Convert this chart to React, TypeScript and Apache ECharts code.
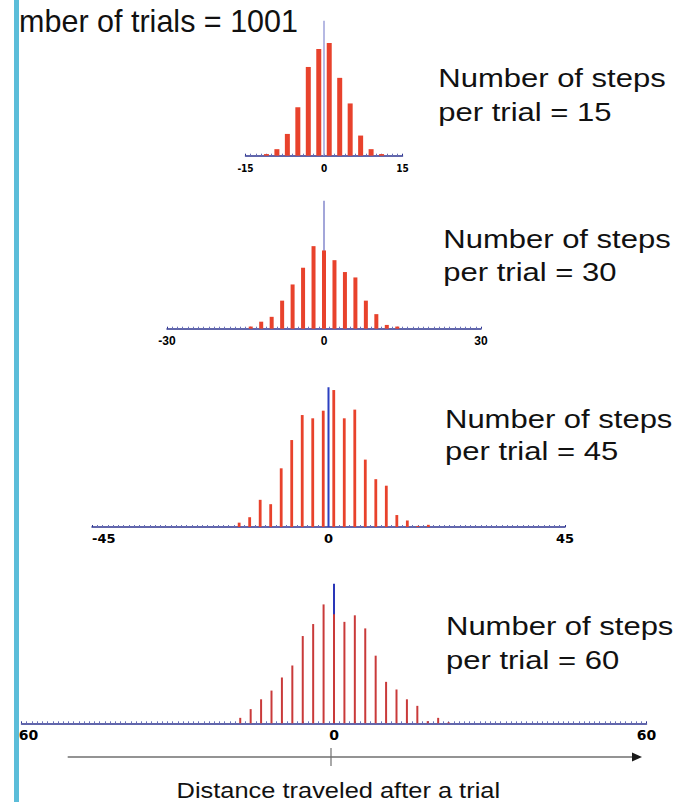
import React, { useEffect, useRef } from "react";
import * as echarts from "echarts";

// ---------- data ----------
const TITLE = "Number of trials = 1001";
const AXIS_TITLE = "Distance traveled after a trial";

const stepsPerTrial = [15, 30, 45, 60];

const dist15 = [-11, -9, -7, -5, -3, -1, 1, 3, 5, 7, 9, 11];
const counts15 = [3, 12, 40, 89, 163, 196, 207, 143, 96, 37, 12, 3];

const dist30 = [-14, -12, -10, -8, -6, -4, -2, 0, 2, 4, 6, 8, 10, 12, 14];
const counts30 = [4, 13, 22, 52, 82, 113, 153, 145, 127, 105, 95, 52, 27, 7, 4];

const dist45 = [-17, -15, -13, -11, -9, -7, -5, -3, -1, 1, 3, 5, 7, 9, 11, 13, 15, 17, 19];
const counts45 = [4, 9, 25, 21, 54, 80, 103, 100, 107, 126, 100, 108, 62, 44, 38, 11, 6, 1, 2];

const dist60 = [-18, -16, -14, -12, -10, -8, -6, -4, -2, 0, 2, 4, 6, 8, 10, 12, 14, 16, 18, 20, 22];
const counts60 = [5, 13, 22, 30, 42, 53, 80, 91, 109, 100, 93, 99, 87, 62, 38, 31, 22, 16, 2, 5, 1];

// height of the vertical marker at 0 (in count units) and y-axis maxima
const centerMarker = [248, 237, 128.5, 128];
const yMax = [250, 240, 130, 130];

const distances = [dist15, dist30, dist45, dist60];
const counts = [counts15, counts30, counts45, counts60];

// ---------- layout / style ----------
const grids = [
  { left: 245.5, top: 19.6, width: 157, height: 136.1 },
  { left: 167, top: 199.2, width: 314, height: 129.5 },
  { left: 92, top: 385.7, width: 473, height: 141.3 },
  { left: 21.5, top: 581.5, width: 625, height: 141.8 },
];
const barWidths = [5, 4, 2.8, 2];
const barColors = ["#e8422c", "#e8422c", "#e8422c", "#c93a3a"];
const markerColors = ["#9ea2da", "#8589cc", "#2b3fc0", "#2a36b8"];
const markerWidths = [1.5, 1.5, 2, 2];
const labelStyles = [
  { fontSize: 10, fontFamily: "'Liberation Sans Narrow', 'DejaVu Sans Condensed', sans-serif", margin: 8 },
  { fontSize: 12, fontFamily: "'Liberation Sans', Arial, sans-serif", margin: 6 },
  { fontSize: 13, fontFamily: "'DejaVu Sans', sans-serif", margin: 5 },
  { fontSize: 14, fontFamily: "'DejaVu Sans', sans-serif", margin: 5 },
];
const textLeft = [438.3, 443.3, 445, 446];
const textLine1 = [78, 238.7, 418.7, 626];
const textLine2 = [112.2, 272.2, 451.2, 660];

const SANS = "'Liberation Sans', Arial, sans-serif";
const AXIS_BLUE = "#2e3590";

export default function App() {
  const ref = useRef<HTMLDivElement>(null);

  useEffect(() => {
    document.body.style.margin = "0";
    if (!ref.current) return;
    const chart = echarts.init(ref.current, null, { renderer: "svg" });

    const xAxis = stepsPerTrial.map((R, i) => {
      const ls = labelStyles[i];
      return {
        type: "value",
        gridIndex: i,
        min: -R,
        max: R,
        interval: R,
        axisLine: { show: true, onZero: false, lineStyle: { color: AXIS_BLUE, width: 1.5 } },
        axisTick: { show: true, inside: true, length: 2, lineStyle: { color: AXIS_BLUE, width: 1 } },
        minorTick: { show: true, splitNumber: R, length: 2, lineStyle: { color: "#6a70b8", width: 1 } },
        splitLine: { show: false },
        minorSplitLine: { show: false },
        axisLabel: {
          show: true,
          color: "#000",
          fontWeight: "bold",
          fontSize: ls.fontSize,
          fontFamily: ls.fontFamily,
          margin: ls.margin,
          alignMinLabel: i === 2 ? "left" : "center",
          formatter: (v: number) => (i === 3 && v === -R ? "{m|" + v + "}" : String(v)),
          rich: {
            m: {
              padding: [0, 0, 0, 8],
              color: "#000",
              fontWeight: "bold",
              fontSize: ls.fontSize,
              fontFamily: ls.fontFamily,
            },
          },
        },
      };
    });

    const yAxis = stepsPerTrial.map((_, i) => ({
      type: "value",
      gridIndex: i,
      min: 0,
      max: yMax[i],
      show: false,
      splitLine: { show: false },
    }));

    const series: any[] = [];
    stepsPerTrial.forEach((_, i) => {
      series.push({
        type: "line",
        xAxisIndex: i,
        yAxisIndex: i,
        data: [
          [0, 0],
          [0, centerMarker[i]],
        ],
        symbol: "none",
        silent: true,
        z: 1,
        lineStyle: { color: markerColors[i], width: markerWidths[i] },
      });
      series.push({
        type: "bar",
        xAxisIndex: i,
        yAxisIndex: i,
        barWidth: barWidths[i],
        z: 2,
        itemStyle: { color: barColors[i] },
        data: distances[i].map((d, j) => [d, counts[i][j]]),
      });
    });

    const graphic: any[] = [
      {
        type: "text",
        x: 298,
        y: 20.5,
        z: 10,
        style: {
          text: TITLE,
          font: "30.5px " + SANS,
          fill: "#111",
          textAlign: "right",
          textVerticalAlign: "middle",
        },
      },
    ];
    stepsPerTrial.forEach((n, i) => {
      graphic.push({
        type: "text",
        x: textLeft[i],
        y: textLine1[i],
        scaleX: 1.17,
        z: 10,
        style: {
          text: "Number of steps",
          font: "26.5px " + SANS,
          fill: "#111",
          textAlign: "left",
          textVerticalAlign: "middle",
        },
      });
      graphic.push({
        type: "text",
        x: textLeft[i],
        y: textLine2[i],
        scaleX: 1.17,
        z: 10,
        style: {
          text: "per trial = " + n,
          font: "26.5px " + SANS,
          fill: "#111",
          textAlign: "left",
          textVerticalAlign: "middle",
        },
      });
    });
    // bottom arrow axis
    graphic.push(
      {
        type: "line",
        z: 10,
        shape: { x1: 67.7, y1: 757, x2: 634, y2: 757 },
        style: { stroke: "#6f6f6f", lineWidth: 1.5 },
      },
      {
        type: "polygon",
        z: 10,
        shape: {
          points: [
            [632, 752.5],
            [642, 757],
            [632, 761.5],
          ],
        },
        style: { fill: "#1a1a1a" },
      },
      {
        type: "line",
        z: 10,
        shape: { x1: 331, y1: 748, x2: 331, y2: 766 },
        style: { stroke: "#6f6f6f", lineWidth: 1.2 },
      },
      {
        type: "text",
        x: 338.3,
        y: 790.2,
        scaleX: 1.13,
        z: 10,
        style: {
          text: AXIS_TITLE,
          font: "22.5px " + SANS,
          fill: "#111",
          textAlign: "center",
          textVerticalAlign: "middle",
        },
      },
      // left margin cover and cyan bar
      {
        type: "rect",
        z: 100,
        shape: { x: 0, y: 0, width: 14, height: 802 },
        style: { fill: "#ffffff" },
      },
      {
        type: "rect",
        z: 101,
        shape: { x: 14, y: 0, width: 5, height: 802 },
        style: { fill: "#5bbdd9" },
      }
    );

    chart.setOption({
      animation: false,
      backgroundColor: "#ffffff",
      grid: grids.map((g) => ({ ...g, containLabel: false })),
      xAxis,
      yAxis,
      series,
      graphic,
    });

    return () => chart.dispose();
  }, []);

  return <div ref={ref} style={{ width: 679, height: 802 }} />;
}
